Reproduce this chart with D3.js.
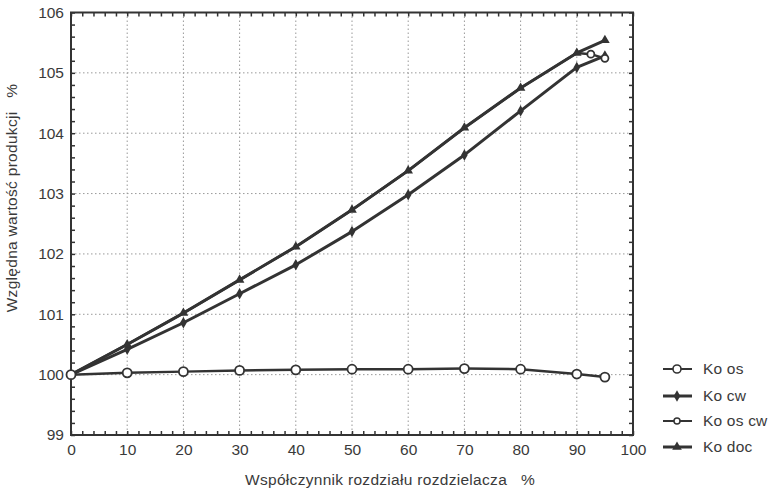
<!DOCTYPE html>
<html><head><meta charset="utf-8">
<script src="https://cdn.jsdelivr.net/npm/d3@7"></script>
<style>body{margin:0;background:#fff}svg{display:block}text{font-family:"Liberation Sans",Arial,sans-serif;fill:#3a3a3a}</style>
</head><body>
<svg id="c" width="773" height="494"></svg>
<script>
const xTicks = [0,10,20,30,40,50,60,70,80,90,100];
const yTicks = [99,100,101,102,103,104,105,106];
const xMain = [0,10,20,30,40,50,60,70,80,90,95];
const koOs   = [100.0,100.03,100.05,100.07,100.08,100.09,100.09,100.1,100.09,100.01,99.96];
const koCw   = [100.0,100.42,100.86,101.34,101.82,102.37,102.98,103.64,104.37,105.09,105.28];
const koDoc  = [100.0,100.5,101.02,101.57,102.12,102.73,103.38,104.09,104.75,105.33,105.54];
const xOsCw  = [0,10,20,30,40,50,60,70,80,90,92.5,95];
const koOsCw = [100.0,100.5,101.02,101.57,102.12,102.73,103.38,104.09,104.75,105.33,105.31,105.24];
const legendLabels = ["Ko os","Ko cw","Ko os cw","Ko doc"];
const xTitle = "Współczynnik rozdziału rozdzielacza   %";
const yTitle = "Względna wartość produkcji   %";

const svg = d3.select("#c");
const L=71, R=633, T=12.5, B=435;
const x = d3.scaleLinear().domain([0,100]).range([L,R]);
const y = d3.scaleLinear().domain([99,106]).range([B,T]);
const ink = "#333";
const FS = 15.5;

// grid
const g = svg.append("g");
g.selectAll(".gx").data(xTicks.slice(1,-1)).enter().append("line")
  .attr("x1",d=>x(d)).attr("x2",d=>x(d)).attr("y1",T).attr("y2",B)
  .attr("stroke","#999").attr("stroke-width",1).attr("stroke-dasharray","1.5,2.5");
g.selectAll(".gy").data(yTicks.slice(1,-1)).enter().append("line")
  .attr("y1",d=>y(d)).attr("y2",d=>y(d)).attr("x1",L).attr("x2",R)
  .attr("stroke","#999").attr("stroke-width",1).attr("stroke-dasharray","1.5,2.5");

// axes with inward ticks
const xMinor = d3.range(0,101,2);
const yMinor = d3.range(99,106.001,0.2);
const tickStyle = s=>{s.select(".domain").remove();s.selectAll("line").attr("stroke",ink).attr("stroke-width",1.5);};
svg.append("g").attr("transform",`translate(0,${B})`)
  .call(d3.axisBottom(x).tickValues(xMinor).tickSize(-4).tickFormat("")).call(tickStyle);
svg.append("g").attr("transform",`translate(0,${T})`)
  .call(d3.axisTop(x).tickValues(xMinor).tickSize(-4).tickFormat("")).call(tickStyle);
svg.append("g").attr("transform",`translate(${L},0)`)
  .call(d3.axisLeft(y).tickValues(yMinor).tickSize(-4).tickFormat("")).call(tickStyle);
svg.append("g").attr("transform",`translate(${R},0)`)
  .call(d3.axisRight(y).tickValues(yMinor).tickSize(-4).tickFormat("")).call(tickStyle);

// labels
const labStyle = s=>{s.select(".domain").remove();s.selectAll("text").attr("font-size",FS).attr("fill","#3a3a3a").style("font-family","Liberation Sans, Arial, sans-serif");};
svg.append("g").attr("transform",`translate(0,${B})`)
  .call(d3.axisBottom(x).tickValues(xTicks).tickSize(0).tickPadding(9).tickFormat(d3.format("d"))).call(labStyle);
svg.append("g").attr("transform",`translate(${L},0)`)
  .call(d3.axisLeft(y).tickValues(yTicks).tickSize(0).tickPadding(7).tickFormat(d3.format("d"))).call(labStyle);

// frame
svg.append("rect").attr("x",L).attr("y",T).attr("width",R-L).attr("height",B-T)
  .attr("fill","none").attr("stroke",ink).attr("stroke-width",2);

// titles
svg.append("text").attr("x",390).attr("y",485).attr("text-anchor","middle")
  .attr("font-size",FS).attr("letter-spacing",0.3).style("white-space","pre").text(xTitle);
svg.append("text").attr("transform","translate(17,198) rotate(-90)").attr("text-anchor","middle")
  .attr("font-size",FS).attr("letter-spacing",0.3).style("white-space","pre").text(yTitle);

const line = d3.line().x(d=>x(d[0])).y(d=>y(d[1]));
const zip = (xs,ys)=>xs.map((v,i)=>[v,ys[i]]);

function drawSeries(pts, w){
  svg.append("path").datum(pts).attr("d",line).attr("fill","none")
    .attr("stroke",ink).attr("stroke-width",w).attr("stroke-linejoin","round");
}
const osCwPts = zip(xOsCw,koOsCw), cwPts = zip(xMain,koCw), docPts = zip(xMain,koDoc), osPts = zip(xMain,koOs);
drawSeries(osCwPts,2.5);
drawSeries(cwPts,3);
drawSeries(docPts,3);
drawSeries(osPts,2.5);

const tri = d3.symbol().type(d3.symbolTriangle).size(40);
const dia = d3.symbol().type(d3.symbolDiamond).size(38);
function markers(pts, kind){
  pts.forEach(p=>{
    const cx=x(p[0]), cy=y(p[1]);
    if(kind==="os") svg.append("circle").attr("cx",cx).attr("cy",cy).attr("r",4.5).attr("fill","#fff").attr("stroke",ink).attr("stroke-width",1.8);
    if(kind==="oscw") svg.append("circle").attr("cx",cx).attr("cy",cy).attr("r",3.5).attr("fill","#fff").attr("stroke",ink).attr("stroke-width",1.8);
    if(kind==="cw") svg.append("path").attr("d",dia).attr("transform",`translate(${cx},${cy})`).attr("fill",ink);
    if(kind==="doc") svg.append("path").attr("d",tri).attr("transform",`translate(${cx},${cy})`).attr("fill",ink);
  });
}
markers(cwPts.slice(1),"cw");
markers(docPts.slice(1),"doc");
markers(osCwPts.slice(-2),"oscw");
markers(osPts,"os");

// legend
const ly = [369,396,421,447];
const kinds = ["os","cw","oscw","doc"];
legendLabels.forEach((lab,i)=>{
  svg.append("line").attr("x1",663).attr("x2",692).attr("y1",ly[i]).attr("y2",ly[i])
    .attr("stroke",ink).attr("stroke-width",(i===1||i===3)?3:2);
  const cx=677, cy=ly[i];
  if(kinds[i]==="os") svg.append("circle").attr("cx",cx).attr("cy",cy).attr("r",4).attr("fill","#fff").attr("stroke",ink).attr("stroke-width",1.6);
  if(kinds[i]==="oscw") svg.append("circle").attr("cx",cx).attr("cy",cy).attr("r",3).attr("fill","#fff").attr("stroke",ink).attr("stroke-width",1.5);
  if(kinds[i]==="cw") svg.append("path").attr("d",dia).attr("transform",`translate(${cx},${cy})`).attr("fill",ink);
  if(kinds[i]==="doc") svg.append("path").attr("d",tri).attr("transform",`translate(${cx},${cy})`).attr("fill",ink);
  svg.append("text").attr("x",703).attr("y",ly[i]+5).attr("font-size",FS).attr("letter-spacing",0.2).text(lab);
});
</script>
</body></html>
